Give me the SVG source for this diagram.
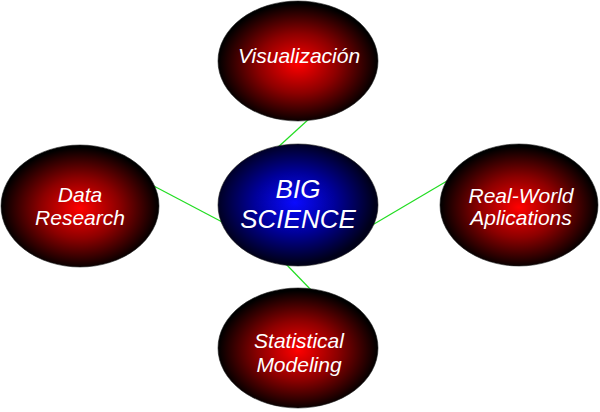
<svg xmlns="http://www.w3.org/2000/svg" width="600" height="412" viewBox="0 0 600 412">
<defs>
<radialGradient id="red" cx="50%" cy="52%" r="50%">
<stop offset="0" stop-color="#ff0000"/>
<stop offset="0.5" stop-color="#8c0000"/>
<stop offset="1" stop-color="#000000"/>
</radialGradient>
<radialGradient id="blue" cx="48%" cy="48%" r="50%">
<stop offset="0" stop-color="#0a0aff"/>
<stop offset="0.5" stop-color="#00009a"/>
<stop offset="1" stop-color="#00001a"/>
</radialGradient>
</defs>
<style>
.conn line{stroke:#22dd22;stroke-width:1.2}
.r{fill:url(#red);stroke:#222;stroke-width:0.6}
.b{fill:url(#blue);stroke:#222;stroke-width:0.6}
text{font-family:"Liberation Sans",Arial,sans-serif;font-style:italic;fill:#ffffff;text-anchor:middle}
.t{font-size:21px}
.c{font-size:26px}
</style>
<g id="connectors" class="conn">
<line x1="310" y1="118" x2="276" y2="149"/>
<line x1="150" y1="184" x2="226" y2="224"/>
<line x1="369" y1="227" x2="447" y2="181"/>
<line x1="284" y1="262" x2="313" y2="292"/>
</g>
<g id="visualizacion">
<ellipse class="r" cx="298" cy="61" rx="80" ry="60"/>
<text class="t" x="299" y="63">Visualización</text>
</g>
<g id="big-science">
<ellipse class="b" cx="298" cy="205" rx="80" ry="61"/>
<text class="c" x="298" y="198">BIG</text>
<text class="c" x="298" y="228">SCIENCE</text>
</g>
<g id="data-research">
<ellipse class="r" cx="80" cy="206" rx="79" ry="61"/>
<text class="t" x="80" y="202">Data</text>
<text class="t" x="80" y="225">Research</text>
</g>
<g id="real-world">
<ellipse class="r" cx="519" cy="205" rx="79" ry="61"/>
<text class="t" x="521" y="203">Real-World</text>
<text class="t" x="521" y="225">Aplications</text>
</g>
<g id="statistical-modeling">
<ellipse class="r" cx="298" cy="348" rx="80" ry="60"/>
<text class="t" x="299" y="348">Statistical</text>
<text class="t" x="299" y="372">Modeling</text>
</g>
</svg>
